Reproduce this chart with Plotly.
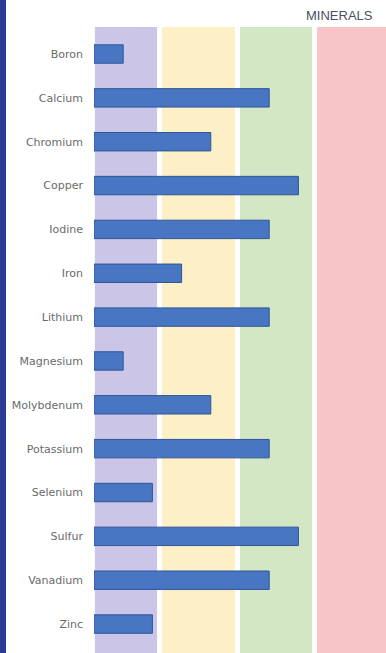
import plotly.graph_objects as go

minerals = ["Boron", "Calcium", "Chromium", "Copper", "Iodine", "Iron", "Lithium",
            "Magnesium", "Molybdenum", "Potassium", "Selenium", "Sulfur", "Vanadium", "Zinc"]
levels = [1, 6, 4, 7, 6, 3, 6, 1, 4, 6, 2, 7, 6, 2]

band_starts = [0.03, 2.33, 5.0, 7.64]
band_ends = [2.16, 4.83, 7.47, 10.2]
band_colors = ["#cbc6e8", "#fdefc6", "#d3e7c5", "#f7c5c8"]

fig = go.Figure()
fig.add_trace(go.Bar(
    x=levels, y=minerals, orientation="h",
    marker=dict(color="#4876c3", line=dict(color="#2f5597", width=1)),
    width=0.42,
))

shapes = []
for s, e, c in zip(band_starts, band_ends, band_colors):
    shapes.append(dict(type="rect", xref="x", yref="paper", x0=s, x1=e, y0=0, y1=1,
                       fillcolor=c, line=dict(width=0), layer="below"))
# left dark blue border
shapes.append(dict(type="rect", xref="paper", yref="paper", x0=-94/292, x1=-88/292,
                   y0=-0.1, y1=1.1, fillcolor="#2b3a94", line=dict(width=0)))
fig.update_layout(
    width=386, height=653,
    margin=dict(l=94, r=0, t=27, b=0),
    paper_bgcolor="white", plot_bgcolor="white",
    showlegend=False,
    shapes=shapes,
    xaxis=dict(range=[0, 10], visible=False, fixedrange=True),
    yaxis=dict(range=[13.66, -0.616], categoryorder="array", categoryarray=minerals,
               showgrid=False, zeroline=False, showline=False, ticks="",
               ticklabelstandoff=10,
               tickfont=dict(family="DejaVu Sans", size=11, color="#6a6a6a")),
    annotations=[dict(text="MINERALS", xref="paper", yref="paper", x=1.0, y=1.0,
                      xanchor="right", yanchor="middle", xshift=-11, yshift=12, showarrow=False,
                      font=dict(family="Liberation Sans, Arial", size=13, color="#4a5060"))],
)
fig.write_html("out.html", config={"displayModeBar": False},
               post_script="document.body.style.margin='0';document.body.style.padding='0';")
